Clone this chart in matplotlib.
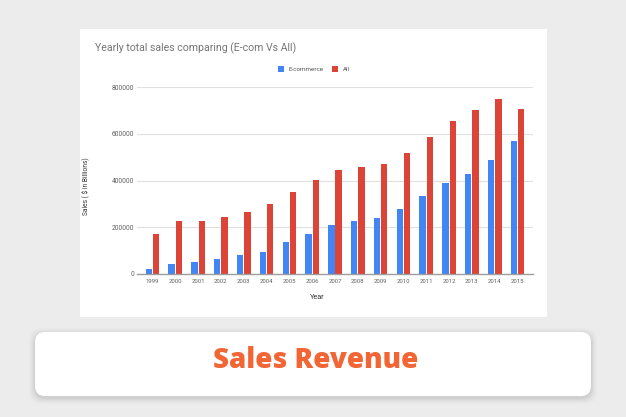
import numpy as np
import matplotlib.pyplot as plt
from matplotlib.patches import Rectangle, FancyBboxPatch

# data
YEARS = [str(y) for y in range(1999, 2016)]
ECOM = [20000, 41000, 50000, 65000, 82000, 95000, 135000, 170000, 209000,
        226000, 240000, 277000, 335000, 389000, 426000, 489000, 567000]
ALL = [173000, 226000, 226000, 243000, 266000, 300000, 350000, 404000, 445000,
       456000, 470000, 519000, 587000, 655000, 700000, 749000, 708000]
Y_TICKS = [0, 200000, 400000, 600000, 800000]

W, H = 626, 417
BLUE = '#4285F4'
RED = '#DB4437'
GREY_TXT = '#616161'

plt.rcParams['font.family'] = ['Roboto', 'DejaVu Sans']

fig = plt.figure(figsize=(W / 100, H / 100), dpi=100)
fig.patch.set_facecolor('#ececec')


def fx(px):
    return px / W


def fy(py):
    return 1 - py / H


# white chart card
fig.patches.append(Rectangle((fx(80), fy(316.5)), fx(467), 288 / H,
                             transform=fig.transFigure, facecolor='white',
                             edgecolor='none', zorder=-2))

# soft shadow for the bottom box
for i, a in enumerate([0.010, 0.013, 0.016, 0.02, 0.025, 0.03]):
    d = 6 - i
    fig.patches.append(FancyBboxPatch(
        (fx(35 - d), fy(396 + d + 2)), fx(556 + 2 * d), (64 + 2 * d) / H,
        boxstyle='round,pad=0,rounding_size=0.02', transform=fig.transFigure,
        facecolor='black', edgecolor='none', alpha=a, zorder=-2,
        mutation_aspect=W / H))
fig.patches.append(FancyBboxPatch(
    (fx(35), fy(396)), fx(556), 64 / H,
    boxstyle='round,pad=0,rounding_size=0.016', transform=fig.transFigure,
    facecolor='white', edgecolor='none', zorder=-1, mutation_aspect=W / H))

fig.text(fx(316), fy(361), 'Sales Revenue', ha='center', va='center',
         fontsize=20, fontweight='heavy', color='#F26636', family='Open Sans')

# chart
ax = fig.add_axes([fx(137), fy(274), fx(396), 187 / H])
ax.set_zorder(2)
ax.set_facecolor('none')
x = np.arange(len(YEARS))
bw = 0.28
ax.bar(x - bw / 2 - 0.02, ECOM, bw, color=BLUE, zorder=3, label='E-commerce')
ax.bar(x + bw / 2 + 0.02, ALL, bw, color=RED, zorder=3, label='All')

ax.set_xlim(-0.68, len(YEARS) - 0.32)
ax.set_ylim(0, 800000)
ax.set_yticks(Y_TICKS)
ax.set_yticklabels([str(v) for v in Y_TICKS])
ax.set_xticks(x)
ax.set_xticklabels(YEARS)
ax.tick_params(axis='x', length=0, labelsize=4.3, colors=GREY_TXT, pad=3.5)
ax.tick_params(axis='y', length=0, labelsize=4.8, colors=GREY_TXT, pad=2)
ax.grid(axis='y', color='#e0e0e0', linewidth=0.8, zorder=0)
for s in ['top', 'right', 'left']:
    ax.spines[s].set_visible(False)
ax.spines['bottom'].set_color('#9e9e9e')
ax.spines['bottom'].set_linewidth(1)
ax.spines['bottom'].set_zorder(4)

ax.set_xlabel('Year', fontsize=5.2, color='#333333')
ax.xaxis.set_label_coords(0.455, -0.105)
ax.set_ylabel('Sales ( $ in Billions)', fontsize=4.8, color='#333333')
ax.yaxis.set_label_coords(-0.118, 0.47)

fig.text(fx(95), fy(48), 'Yearly total sales comparing (E-com Vs All)',
         ha='left', va='center', fontsize=7.6, color='#757575')

ax.legend(loc='center', bbox_to_anchor=(fx(314), fy(69)),
          bbox_transform=fig.transFigure, ncol=2, frameon=False, fontsize=4.5,
          handlelength=1, handleheight=1, columnspacing=1.3, handletextpad=0.8,
          labelcolor='#555555')

fig.savefig('out.png', dpi=100, facecolor=fig.get_facecolor())
